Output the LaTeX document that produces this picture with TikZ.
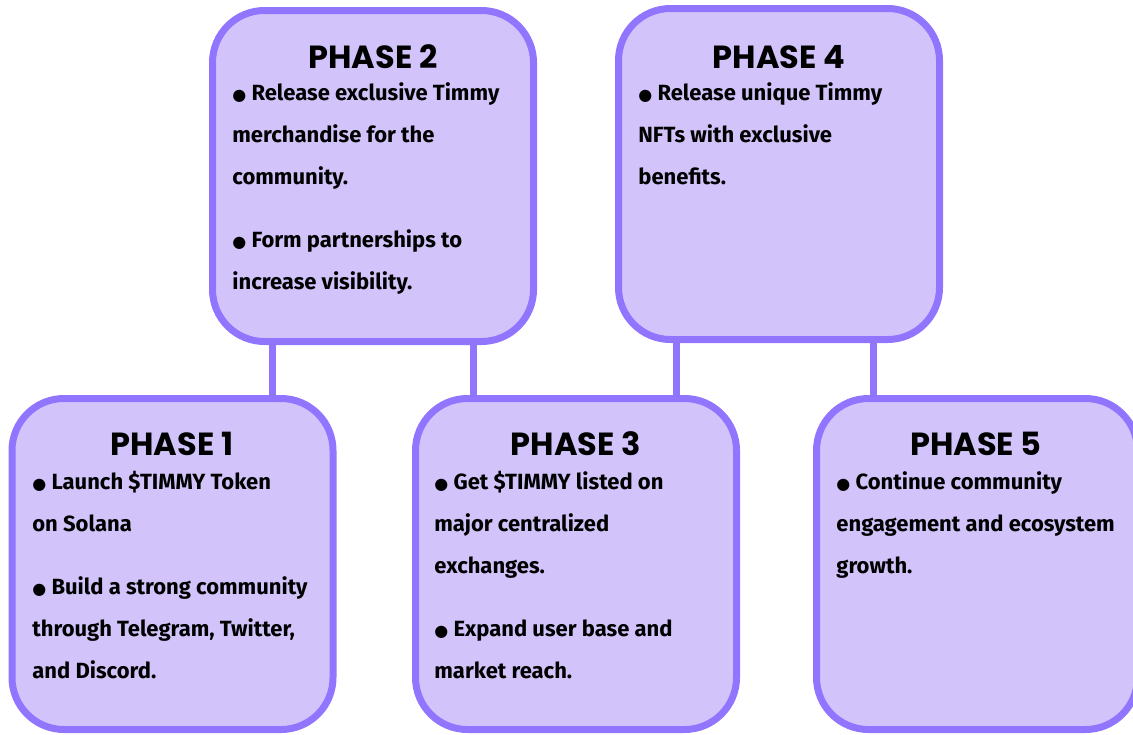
\documentclass[tikz,border=0pt]{standalone}
\usepackage{fontspec}
\setmainfont{Fira Sans}
\newfontfamily\titlefont{Poppins}
\newfontfamily\dotfont{DejaVu Sans}
\newcommand{\bul}{{\dotfont\fontsize{8}{8}\selectfont ●}\ }
\usetikzlibrary{positioning}
\definecolor{phaseline}{RGB}{145,117,255}
\definecolor{phasefill}{RGB}{210,196,250}
\tikzset{
  phase/.style={draw=phaseline, fill=phasefill, line width=3.5pt, rounded corners=26pt,
    minimum width=160.5pt, minimum height=165.5pt, inner sep=0pt},
  phasetitle/.style={font=\titlefont\bfseries\fontsize{16}{16}\selectfont},
  phasetext/.style={anchor=north west, align=left, inner sep=0pt,
    font=\bfseries\fontsize{11}{21}\selectfont},
  link/.style={draw=phaseline, line width=3.5pt},
}
\begin{document}
\begin{tikzpicture}[x=0.5pt, y=-0.5pt]
  \useasboundingbox (0,0) rectangle (1133,734);
  % boxes
  \node[phase] (p2) at (373,176) {};
  \node[phase] (p4) at (779,174) {};
  \node[phase] (p1) at (172.5,564) {};
  \node[phase] (p3) at (576,564) {};
  \node[phase] (p5) at (977,564) {};
  % connectors
  \draw[link] ([xshift=50pt]p1.north) -- ([xshift=50pt]p1.north |- p2.south);
  \draw[link] ([xshift=-51.5pt]p3.north) -- ([xshift=-51.5pt]p3.north |- p2.south);
  \draw[link] ([xshift=50pt]p3.north) -- ([xshift=50pt]p3.north |- p4.south);
  \draw[link] ([xshift=-52pt]p5.north) -- ([xshift=-52pt]p5.north |- p4.south);
  % titles
  \node[phasetitle] (t2) at (373,57) {PHASE 2};
  \node[phasetitle] (t4) at (779,57) {PHASE 4};
  \node[phasetitle] (t1) at (172,444) {PHASE 1};
  \node[phasetitle] (t3) at (576,444) {PHASE 3};
  \node[phasetitle] (t5) at (976,444) {PHASE 5};
  % texts
  \node[phasetext] (b2) at (232,82) {\bul Release exclusive Timmy\\merchandise for the\\community.\\[10.5pt]
    \bul Form partnerships to\\increase visibility.};
  \node[phasetext] (b4) at (638,82) {\bul Release unique Timmy\\NFTs with exclusive\\benefits.};
  \node[phasetext] (b1) at (32,471) {\bul Launch \$TIMMY Token\\on Solana\\[10.5pt]
    \bul Build a strong community\\through Telegram, Twitter,\\and Discord.};
  \node[phasetext] (b3) at (434,471) {\bul Get \$TIMMY listed on\\major centralized\\exchanges.\\[10.5pt]
    \bul Expand user base and\\market reach.};
  \node[phasetext] (b5) at (836,471) {\bul Continue community\\engagement and ecosystem\\growth.};
\end{tikzpicture}
\end{document}
